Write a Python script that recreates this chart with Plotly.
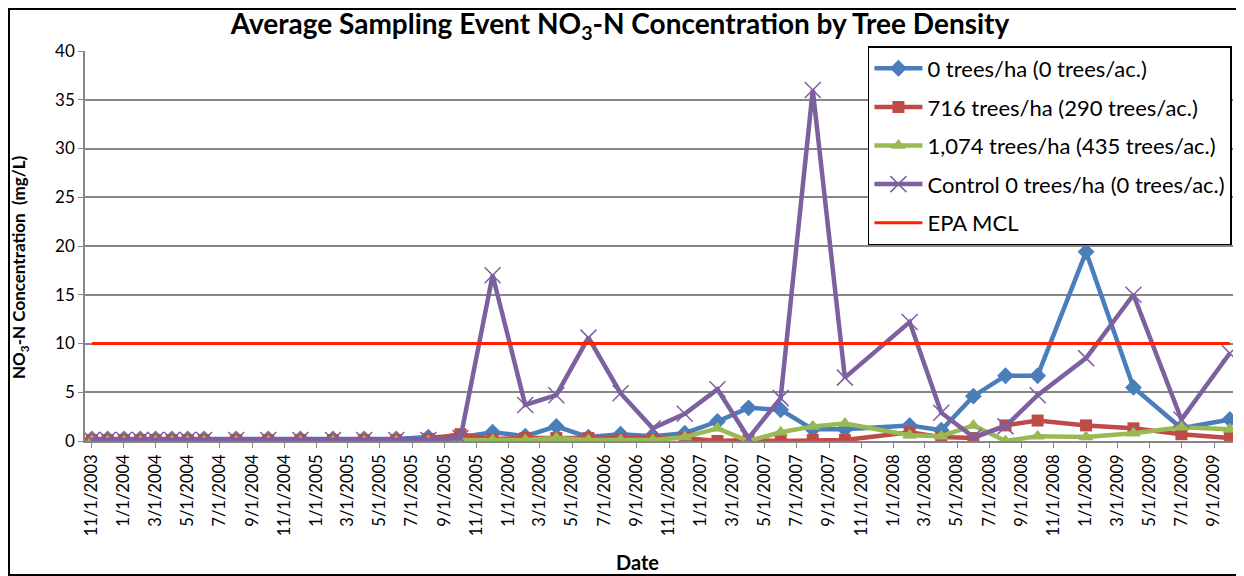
import plotly.graph_objects as go

DATES = [
    "2003-11-01", "2003-12-01", "2004-01-01", "2004-02-01", "2004-03-01", "2004-04-01",
    "2004-05-01", "2004-06-01", "2004-08-01", "2004-10-01", "2004-12-01", "2005-02-01",
    "2005-04-01", "2005-06-01", "2005-08-01", "2005-10-01", "2005-12-01", "2006-02-01",
    "2006-04-01", "2006-06-01", "2006-08-01", "2006-10-01", "2006-12-01", "2007-02-01",
    "2007-04-01", "2007-06-01", "2007-08-01", "2007-10-01", "2008-02-01", "2008-04-01",
    "2008-06-01", "2008-08-01", "2008-10-01", "2009-01-01", "2009-04-01", "2009-07-01",
    "2009-10-01",
]

TREES_0 = [0.2, 0.2, 0.2, 0.2, 0.2, 0.2, 0.2, 0.2, 0.2, 0.2, 0.2, 0.2, 0.2, 0.2, 0.4,
           0.4, 0.9, 0.5, 1.5, 0.4, 0.7, 0.5, 0.8, 2.0, 3.4, 3.2, 1.2, 1.2, 1.6, 1.1,
           4.6, 6.7, 6.7, 19.4, 5.5, 1.3, 2.2]
TREES_716 = [0.1, 0.1, 0.1, 0.1, 0.1, 0.1, 0.1, 0.1, 0.1, 0.1, 0.1, 0.1, 0.1, 0.1, 0.2,
             0.7, 0.2, 0.3, 0.3, 0.3, 0.2, 0.2, 0.3, 0.0, 0.1, 0.0, 0.1, 0.1, 0.9, 0.4,
             0.3, 1.6, 2.1, 1.6, 1.3, 0.7, 0.3]
TREES_1074 = [0.0, 0.0, 0.0, 0.0, 0.0, 0.0, 0.0, 0.0, 0.0, 0.0, 0.0, 0.0, 0.0, 0.0, 0.0,
              0.0, 0.1, 0.1, 0.3, 0.1, 0.1, 0.1, 0.4, 1.3, 0.0, 0.9, 1.5, 1.8, 0.6, 0.5,
              1.6, 0.0, 0.5, 0.4, 0.8, 1.4, 1.2]
CONTROL = [0.1, 0.1, 0.1, 0.1, 0.1, 0.1, 0.1, 0.1, 0.1, 0.1, 0.1, 0.1, 0.1, 0.1, 0.1,
           0.3, 17.0, 3.7, 4.7, 10.6, 4.9, 1.3, 2.8, 5.3, 0.3, 4.4, 36.0, 6.5, 12.2, 2.9,
           0.4, 1.5, 4.7, 8.5, 15.0, 2.2, 9.0]
EPA_MCL = [10] * len(DATES)

SERIES_NAMES = [
    "0 trees/ha (0 trees/ac.)",
    "716 trees/ha (290 trees/ac.)",
    "1,074 trees/ha (435 trees/ac.)",
    "Control 0 trees/ha (0 trees/ac.)",
    "EPA MCL",
]

FONT = "Lato"

fig = go.Figure()
styles = [
    (TREES_0, "#4A7EBB", dict(symbol="diamond", size=13)),
    (TREES_716, "#BE4B48", dict(symbol="square", size=12)),
    (TREES_1074, "#98B954", dict(symbol="triangle-up", size=13)),
    (CONTROL, "#7D60A0", dict(symbol="x-thin-open", size=16, line=dict(width=1.5, color="#7D60A0"))),
]
for i, (vals, col, mk) in enumerate(styles):
    fig.add_trace(go.Scatter(
        x=DATES, y=vals, name=SERIES_NAMES[i], mode="lines+markers",
        line=dict(color=col, width=4.5), marker=dict(color=col, **mk),
        legendgroup=str(i),
    ))
fig.add_trace(go.Scatter(
    x=DATES, y=EPA_MCL, name=SERIES_NAMES[4], mode="lines",
    line=dict(color="#FF2000", width=3), legendgroup="4",
))

fig.update_layout(
    width=1236, height=568,
    margin=dict(l=77, r=11, t=43, b=135),
    paper_bgcolor="white", plot_bgcolor="white",
    font=dict(family=FONT, color="#000000"),
    title=dict(
        text="<b>Average Sampling Event NO<sub>3</sub>-N Concentration by Tree Density</b>",
        x=(620 - 8) / 1236, xanchor="center", y=1 - 16 / 568, yanchor="middle",
        font=dict(size=28, family=FONT, color="#000000"),
    ),
    showlegend=True,
    legend=dict(
        x=0.682, y=1.0128, xanchor="left", yanchor="top",
        bgcolor="white", bordercolor="#000000", borderwidth=1.5,
        font=dict(size=22, family=FONT, color="#000000"),
        tracegroupgap=7, traceorder="grouped", itemwidth=48,
    ),
    xaxis=dict(
        type="date",
        range=["2003-10-19", "2009-10-07"],
        tick0="2003-11-01", dtick="M2", tickformat="%-m/%-d/%Y",
        tickangle=-90, tickfont=dict(size=16.5, family=FONT, color="#000000"),
        showgrid=False, showline=True, linecolor="#868686", linewidth=1.5,
        ticks="outside", ticklen=5, tickcolor="#868686",
    ),
    yaxis=dict(
        range=[0, 40], tick0=0, dtick=5,
        tickfont=dict(size=17, family=FONT, color="#000000"),
        showgrid=True, gridcolor="#868686", gridwidth=1.5,
        showline=True, linecolor="#868686", linewidth=1.5,
        ticks="outside", ticklen=5, tickcolor="#868686",
        zeroline=False,
    ),
    annotations=[
        dict(text="<b>NO<sub>3</sub>-N Concentration  (mg/L)</b>", textangle=-90,
             xref="paper", yref="paper", x=(12 - 77) / 1148, y=(433 - 259) / 390,
             xanchor="center", yanchor="middle", showarrow=False,
             font=dict(size=17, family=FONT, color="#000000")),
        dict(text="<b>Date</b>", xref="paper", yref="paper",
             x=(629 - 77) / 1148, y=(433 - 554) / 390,
             xanchor="center", yanchor="middle", showarrow=False,
             font=dict(size=20, family=FONT, color="#000000")),
    ],
    shapes=[dict(
        type="rect", xref="paper", yref="paper",
        x0=(1 - 77) / 1148, x1=(1234 - 77) / 1148, y0=(433 - 567) / 390, y1=(433 - 1) / 390,
        line=dict(color="#000000", width=2), fillcolor="rgba(0,0,0,0)", layer="below",
    )],
)

fig.write_html("out.html")
